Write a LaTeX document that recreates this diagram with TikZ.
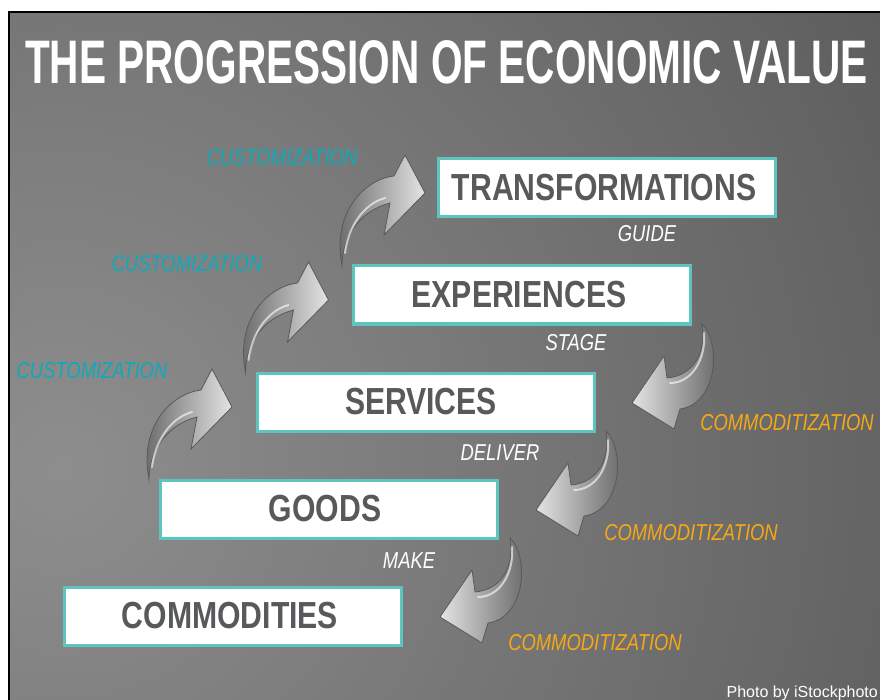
\documentclass[tikz,border=0pt]{standalone}
\usepackage{fontspec}
\usepackage{graphicx}
\usepackage{tikz}

\setmainfont{Liberation Sans}
\newfontfamily\titlefont[FakeStretch=0.66]{Liberation Sans}
\newfontfamily\boxfont[FakeStretch=0.8]{Liberation Sans}

\definecolor{boxteal}{RGB}{94,196,190}
\definecolor{custteal}{RGB}{14,170,186}
\definecolor{commgold}{RGB}{247,168,20}
\definecolor{boxtext}{RGB}{88,89,91}
\definecolor{bglight}{RGB}{142,142,142}
\definecolor{bgdark}{RGB}{60,60,60}
\definecolor{arrowdark}{RGB}{100,100,100}
\definecolor{arrowlight}{RGB}{228,228,228}

\begin{document}
\begin{tikzpicture}[x=1pt,y=-1pt,
  stagebox/.style={draw=boxteal, line width=3pt, fill=white, inner sep=0pt,
    minimum width=337pt, minimum height=58pt, text=boxtext,
    font=\boxfont\bfseries\fontsize{37.7}{40}\selectfont},
  stagelabel/.style={anchor=base, inner sep=0pt, text=white,
    font=\boxfont\itshape\fontsize{23}{23}\selectfont},
  custlabel/.style={stagelabel, text=custteal},
  commlabel/.style={stagelabel, text=commgold},
  upcurl/.pic={
    \shadedraw[draw=black!65, line width=0.8pt, left color=arrowdark, right color=arrowlight]
      (-83,72) .. controls (-93,22) and (-63,-13) .. (-31,-17)
      -- (-20,-38) -- (0,0) -- (-41,42) -- (-35,10)
      .. controls (-63,17) and (-83,42) .. (-83,72) -- cycle;
    \draw[white, opacity=0.6, line width=2pt, line cap=round]
      (-40,5) .. controls (-62,11) and (-77,35) .. (-80,60);
  },
  downcurl/.pic={
    \shadedraw[draw=black!65, line width=0.8pt, left color=arrowlight, right color=arrowdark]
      (70,-79) .. controls (90,-59) and (85,1) .. (48,6)
      -- (42,26) -- (0,0) -- (32,-47) -- (35,-25)
      .. controls (60,-27) and (75,-49) .. (70,-79) -- cycle;
    \draw[white, opacity=0.6, line width=2pt, line cap=round]
      (38,-20) .. controls (60,-20) and (74,-44) .. (72,-70);
  }]

\useasboundingbox (0,0) rectangle (880,700);

% backdrop
\fill[white] (0,0) rectangle (880,700);
\begin{scope}
\clip (9,12) rectangle (880,700);
\shade[inner color=bglight, outer color=bgdark] (60,470) circle (1600);
\end{scope}
\draw[black, line width=2.5pt] (9,700) -- (9,12) -- (880,12);

% heading
\node[anchor=base, inner sep=0pt, text=white,
  font=\titlefont\bfseries\fontsize{61.5}{62}\selectfont] (title) at (446.5,84)
  {THE PROGRESSION OF ECONOMIC VALUE};

% curved arrows
\foreach \i in {0,1,2} {
\pic at (232+96.5*\i,407-107*\i) {upcurl};
\pic at (440+96*\i,617-107*\i) {downcurl};
}

% the five stages
\node[stagebox] (commodities) at (233,616) {COMMODITIES\hspace*{6pt}};
\node[stagebox] (goods) at (329,509) {GOODS\hspace*{8pt}};
\node[stagebox] (services) at (426,402) {SERVICES\hspace*{10pt}};
\node[stagebox] (experiences) at (522,295) {EXPERIENCES\hspace*{6pt}};
\node[stagebox] (transformations) at (607,188) {TRANSFORMATIONS\hspace*{6pt}};

% verbs under the boxes
\node[stagelabel] (make) at (409,568) {MAKE};
\node[stagelabel] (deliver) at (500,460) {DELIVER};
\node[stagelabel] (stage) at (576,350) {STAGE};
\node[stagelabel] (guide) at (647,242) {GUIDE};

% arrow labels
\foreach \i in {0,1,2} {
\node[custlabel] (cust\i) at (92+95*\i,378-106*\i) {CUSTOMIZATION};
\node[commlabel] (comm\i) at (595+96*\i,650-110*\i) {COMMODITIZATION};
}

\node[anchor=base east, inner sep=0pt, text=white, font=\fontsize{16}{16}\selectfont]
  (credit) at (878,697) {Photo by iStockphoto};

\end{tikzpicture}
\end{document}
